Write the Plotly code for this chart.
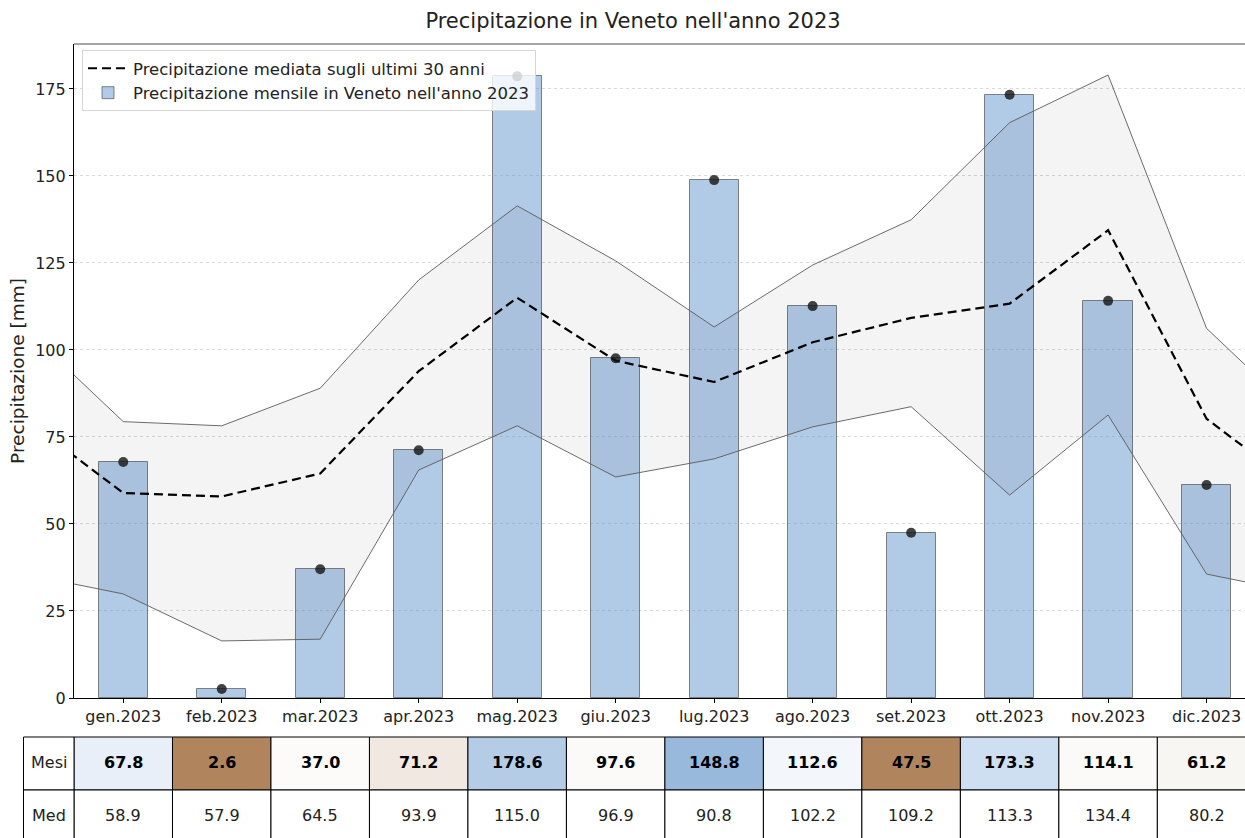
import plotly.graph_objects as go

months = ["gen.2023", "feb.2023", "mar.2023", "apr.2023", "mag.2023", "giu.2023",
          "lug.2023", "ago.2023", "set.2023", "ott.2023", "nov.2023", "dic.2023"]
precip_2023 = [67.8, 2.6, 37.0, 71.2, 178.6, 97.6, 148.8, 112.6, 47.5, 173.3, 114.1, 61.2]
mean_30y = [58.9, 57.9, 64.5, 93.9, 115.0, 96.9, 90.8, 102.2, 109.2, 113.3, 134.4, 80.2]
max_30y = [79.4, 78.2, 89.0, 120.1, 141.4, 125.6, 106.6, 124.4, 137.4, 165.3, 179.0, 106.2]
min_30y = [29.9, 16.4, 16.9, 65.5, 78.2, 63.5, 68.7, 77.9, 83.7, 58.3, 81.3, 35.6]
cell_colors = ["#e8eff8", "#b0855e", "#fcfbfa", "#f0e8e1", "#b4cce6", "#fbfaf8",
               "#98b9dc", "#f3f6fb", "#b0855e", "#cddff0", "#fbfaf8", "#f8f6f3"]
row_labels = ["Mesi", "Med"]

n = len(months)
xi = list(range(n))
# cyclic wrap (dic before gen, gen after dic) so the lines continue to the frame edges
xw = [-1] + xi + [n]
wrap = lambda a: [a[-1]] + list(a) + [a[0]]

FONT = "DejaVu Sans"
fig = go.Figure()

fig.add_trace(go.Scatter(x=xw, y=wrap(min_30y), mode="lines",
                         line=dict(color="#5a5a5a", width=0.9), showlegend=False, hoverinfo="skip"))
fig.add_trace(go.Scatter(x=xw, y=wrap(max_30y), mode="lines", fill="tonexty",
                         fillcolor="rgba(0,0,0,0.045)",
                         line=dict(color="#5a5a5a", width=0.9), showlegend=False, hoverinfo="skip"))
fig.add_trace(go.Scatter(x=xw, y=wrap(mean_30y), mode="lines",
                         line=dict(color="black", width=2.2, dash="9px,5px"),
                         name="Precipitazione mediata sugli ultimi 30 anni"))
fig.add_trace(go.Scatter(x=xi, y=precip_2023, mode="markers",
                         marker=dict(color="rgba(20,20,20,0.8)", size=10),
                         showlegend=False))
fig.add_trace(go.Bar(x=xi, y=precip_2023, width=0.5,
                     marker=dict(color="rgba(100,150,205,0.5)",
                                 line=dict(color="rgba(60,60,60,0.6)", width=1)),
                     name="Precipitazione mensile in Veneto nell'anno 2023"))

W, H = 1245, 838
L, R, T, B = 74, 0, 44, 140
plot_h = H - T - B
plot_w = W - L - R

def py(pix):
    return (H - B - pix) / plot_h

def px(pix):
    return (pix - L) / plot_w

TF = 16
row_top, row_mid, row_bot = py(737), py(790), py(846)
shapes = []
annotations = []
for i in xi:
    shapes.append(dict(type="rect", xref="x", yref="paper", x0=i - 0.5, x1=i + 0.5,
                       y0=row_mid, y1=row_top, fillcolor=cell_colors[i],
                       line=dict(color="black", width=1), layer="above"))
    shapes.append(dict(type="rect", xref="x", yref="paper", x0=i - 0.5, x1=i + 0.5,
                       y0=row_bot, y1=row_mid, fillcolor="white",
                       line=dict(color="black", width=1), layer="above"))
    annotations.append(dict(x=i, y=py(762), xref="x", yref="paper",
                            xanchor="center", yanchor="middle",
                            text="<b>%.1f</b>" % precip_2023[i], showarrow=False,
                            font=dict(family=FONT, size=TF, color="black")))
    annotations.append(dict(x=i, y=py(815), xref="x", yref="paper",
                            xanchor="center", yanchor="middle",
                            text="%.1f" % mean_30y[i], showarrow=False,
                            font=dict(family=FONT, size=TF, color="#222")))
hx0, hx1 = px(23.5), 0
shapes.append(dict(type="rect", xref="paper", yref="paper", x0=hx0, x1=hx1,
                   y0=row_mid, y1=row_top, fillcolor="white", line=dict(color="black", width=1)))
shapes.append(dict(type="rect", xref="paper", yref="paper", x0=hx0, x1=hx1,
                   y0=row_bot, y1=row_mid, fillcolor="white", line=dict(color="black", width=1)))
annotations.append(dict(x=(hx0 + hx1) / 2, y=py(762), xref="paper", yref="paper",
                        xanchor="center", yanchor="middle",
                        text=row_labels[0], showarrow=False,
                        font=dict(family=FONT, size=TF, color="#222")))
annotations.append(dict(x=(hx0 + hx1) / 2, y=py(815), xref="paper", yref="paper",
                        xanchor="center", yanchor="middle",
                        text=row_labels[1], showarrow=False,
                        font=dict(family=FONT, size=TF, color="#222")))
# top spine
shapes.append(dict(type="line", xref="paper", yref="paper", x0=0, x1=1, y0=1, y1=1,
                   line=dict(color="#888888", width=1.5)))

fig.update_layout(
    width=W, height=H,
    margin=dict(l=L, r=R, t=T, b=B),
    paper_bgcolor="white", plot_bgcolor="white",
    font=dict(family=FONT, size=16, color="#222"),
    title=dict(text="Precipitazione in Veneto nell'anno 2023", x=633 / W, xref="container",
               xanchor="center", y=1 - 21 / H, yanchor="middle",
               font=dict(family=FONT, size=21, color="#222")),
    showlegend=True,
    legend=dict(x=px(82), y=py(50), xanchor="left", yanchor="top",
                bgcolor="rgba(255,255,255,0.8)", bordercolor="#d6d6d6", borderwidth=1,
                font=dict(family=FONT, size=16.5, color="#222"), traceorder="normal",
                itemwidth=40, tracegroupgap=0),
    bargap=0,
    xaxis=dict(range=[-0.5, 11.39], tickmode="array", tickvals=xi, ticktext=months,
               showgrid=False, zeroline=False, showline=True, linecolor="black", linewidth=1.2,
               ticks="outside", ticklen=4, tickcolor="black",
               tickfont=dict(family=FONT, size=16, color="#222")),
    yaxis=dict(range=[0, 187.9], tickvals=[0, 25, 50, 75, 100, 125, 150, 175],
               showgrid=True, gridcolor="#d9d9d9", griddash="dot", gridwidth=1,
               zeroline=False, showline=True, linecolor="black", linewidth=1.2,
               ticks="outside", ticklen=4, tickcolor="black",
               tickfont=dict(family=FONT, size=16, color="#222"),
               title=dict(text="Precipitazione [mm]", standoff=5,
                          font=dict(family=FONT, size=18.5, color="#222"))),
    shapes=shapes,
    annotations=annotations,
)

fig.write_html("out.html", config={"displayModeBar": False},
               post_script="document.body.style.margin='0';document.body.style.overflow='hidden';")
